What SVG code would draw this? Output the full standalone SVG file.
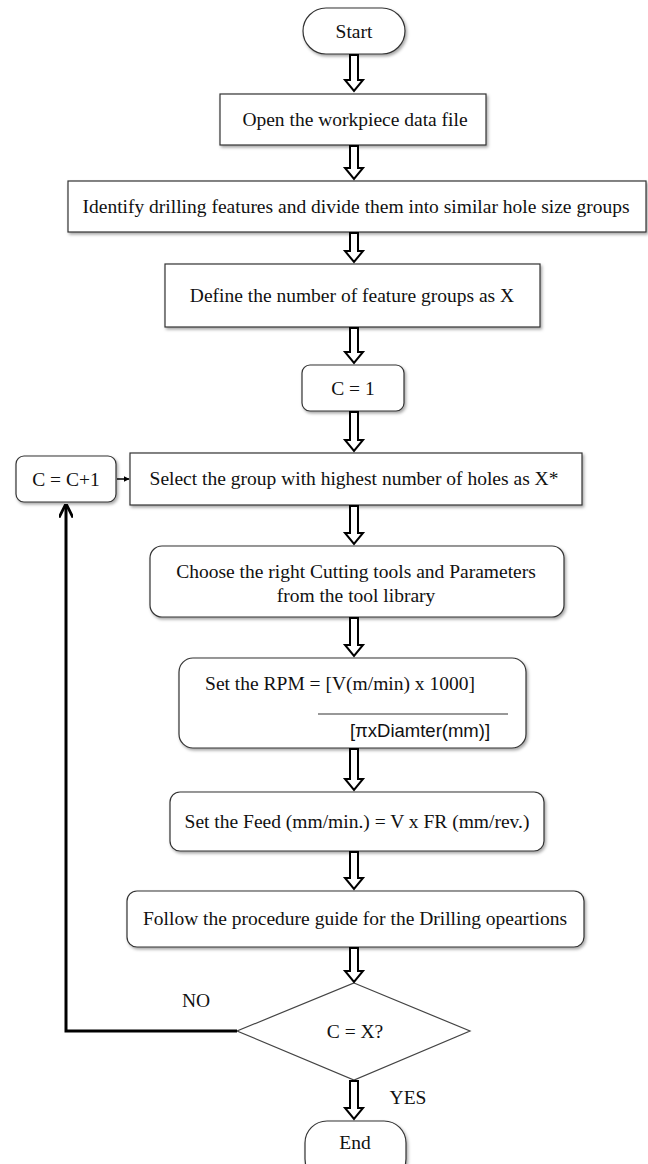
<svg xmlns="http://www.w3.org/2000/svg" width="648" height="1164" viewBox="0 0 648 1164">
<defs>
<filter id="sh" x="-10%" y="-20%" width="130%" height="150%">
<feDropShadow dx="1.5" dy="2" stdDeviation="1.5" flood-color="#000" flood-opacity="0.35"/>
</filter>
<marker id="ah" viewBox="0 0 10 10" refX="9" refY="5" markerWidth="6" markerHeight="6" orient="auto" markerUnits="userSpaceOnUse">
<path d="M0,0 L10,5 L0,10 Z" fill="#000"/>
</marker>
<marker id="ah2" viewBox="0 0 10 10" refX="9" refY="5" markerWidth="14" markerHeight="14" orient="auto" markerUnits="userSpaceOnUse">
<path d="M0,0 L10,5 L0,10" fill="none" stroke="#000" stroke-width="2"/>
</marker>
</defs>
<style>
.box{fill:#fff;stroke:#333;stroke-width:1.2;filter:url(#sh)}
.t{font-family:"Liberation Serif","Times New Roman",serif;font-size:19.5px;fill:#111;text-anchor:middle}
.s{font-family:"Liberation Sans",Arial,sans-serif;font-size:18.5px;fill:#111;text-anchor:middle}
.barrow{fill:#fff;stroke:#000;stroke-width:2;stroke-linejoin:miter}
</style>
<g id="start"><rect class="box" x="303" y="8" width="102" height="46" rx="23"/><text class="t" x="354" y="38">Start</text></g>
<g id="open"><rect class="box" x="220" y="94" width="266" height="51"/><text class="t" x="355" y="126">Open the workpiece data file</text></g>
<g id="identify"><rect class="box" x="68" y="181" width="578" height="51"/><text class="t" x="356" y="213">Identify drilling features and divide them into similar hole size groups</text></g>
<g id="define"><rect class="box" x="165" y="264" width="375" height="63"/><text class="t" x="352" y="302">Define the number of feature groups as X</text></g>
<g id="c1"><rect class="box" x="302" y="365" width="102" height="46" rx="8"/><text class="t" x="353" y="395">C = 1</text></g>
<g id="cinc"><rect class="box" x="16" y="456" width="100" height="46" rx="8"/><text class="t" x="66" y="486">C = C+1</text></g>
<g id="select"><rect class="box" x="130" y="453" width="452" height="52"/><text class="t" x="354" y="485">Select the group with highest number of holes as X*</text></g>
<g id="choose"><rect class="box" x="150" y="546" width="414" height="71" rx="12"/><text class="t" x="356" y="578">Choose the right Cutting tools and Parameters</text><text class="t" x="356" y="602">from the tool library</text></g>
<g id="rpm"><rect class="box" x="179" y="658" width="347" height="90" rx="14"/><text class="t" x="340" y="690">Set the RPM = [V(m/min) x 1000]</text><line x1="318" y1="714" x2="508" y2="714" stroke="#333" stroke-width="1.2"/><text class="s" x="420" y="737">[πxDiamter(mm)]</text></g>
<g id="feed"><rect class="box" x="170" y="792" width="374" height="59" rx="10"/><text class="t" x="357" y="828">Set the Feed (mm/min.) = V x FR (mm/rev.)</text></g>
<g id="follow"><rect class="box" x="127" y="891" width="457" height="56" rx="10"/><text class="t" x="355" y="925">Follow the procedure guide for the Drilling opeartions</text></g>
<g id="decision"><polygon points="354,983 470,1031 354,1080 237,1031" fill="#fff" stroke="#444" stroke-width="1.2"/><text class="t" x="355" y="1038">C = X?</text></g>
<g id="end"><rect class="box" x="305" y="1121" width="101" height="60" rx="22"/><text class="t" x="355" y="1149">End</text></g>
<g id="connectors">
<path class="barrow" d="M350,55 L350,80 L345,80 L354,91 L363,80 L358,80 L358,55 Z"/>
<path class="barrow" d="M350,146 L350,168 L345,168 L354,179 L363,168 L358,168 L358,146 Z"/>
<path class="barrow" d="M350,233 L350,251 L345,251 L354,262 L363,251 L358,251 L358,233 Z"/>
<path class="barrow" d="M350,328 L350,352 L345,352 L354,363 L363,352 L358,352 L358,328 Z"/>
<path class="barrow" d="M350,412 L350,440 L345,440 L354,451 L363,440 L358,440 L358,412 Z"/>
<path class="barrow" d="M350,506 L350,533 L345,533 L354,544 L363,533 L358,533 L358,506 Z"/>
<path class="barrow" d="M350,618 L350,645 L345,645 L354,656 L363,645 L358,645 L358,618 Z"/>
<path class="barrow" d="M350,749 L350,779 L345,779 L354,790 L363,779 L358,779 L358,749 Z"/>
<path class="barrow" d="M350,852 L350,878 L345,878 L354,889 L363,878 L358,878 L358,852 Z"/>
<path class="barrow" d="M350,948 L350,971 L345,971 L354,982 L363,971 L358,971 L358,948 Z"/>
<path class="barrow" d="M350,1081 L350,1108 L345,1108 L354,1119 L363,1108 L358,1108 L358,1081 Z"/>
<line x1="117" y1="479" x2="129" y2="479" stroke="#000" stroke-width="1.5" marker-end="url(#ah)"/>
<polyline points="237,1031 66,1031 66,505" fill="none" stroke="#000" stroke-width="3" marker-end="url(#ah2)"/>
<text class="t" x="196" y="1007">NO</text>
<text class="t" x="408" y="1104">YES</text>
</g>
</svg>
